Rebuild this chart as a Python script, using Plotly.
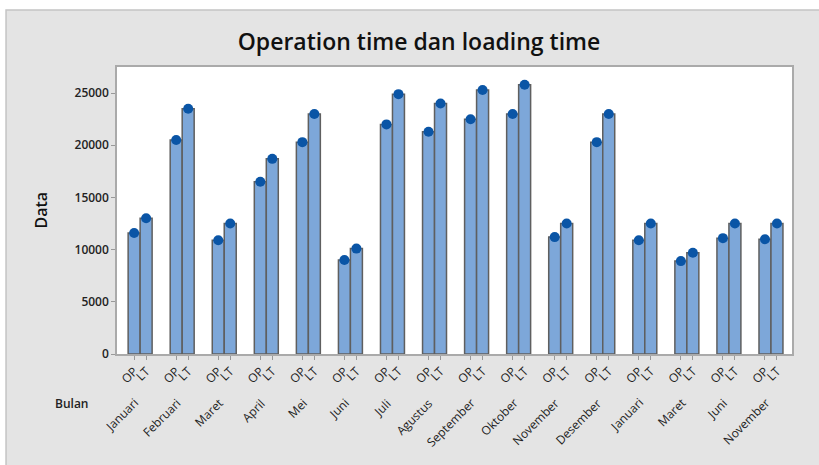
import plotly.graph_objects as go

months = ["Januari", "Februari", "Maret", "April", "Mei", "Juni", "Juli", "Agustus",
          "September", "Oktober", "November", "Desember", "Januari", "Maret", "Juni", "November"]
op_values = [11600, 20500, 10900, 16500, 20300, 9000, 22000, 21300,
             22500, 23000, 11200, 20300, 10900, 8900, 11100, 11000]
lt_values = [13000, 23500, 12500, 18700, 23000, 10100, 24900, 24000,
             25300, 25800, 12500, 23000, 12500, 9700, 12500, 12500]
sub_labels = ["OP", "LT"]
y_ticks = [0, 5000, 10000, 15000, 20000, 25000]

BAR_W = 0.285
BAR_FILL = "#7da7d9"
BAR_LINE = "#5f5f5f"
MARK = "#0a55a6"
FONT = "Open Sans"

idx = list(range(len(months)))
x_op = [i - BAR_W / 2 for i in idx]
x_lt = [i + BAR_W / 2 for i in idx]

fig = go.Figure()
fig.add_trace(go.Bar(x=idx, y=op_values, width=BAR_W, offset=-BAR_W, name="OP",
                     marker=dict(color=BAR_FILL, line=dict(color=BAR_LINE, width=1.5))))
fig.add_trace(go.Bar(x=idx, y=lt_values, width=BAR_W, offset=0, name="LT",
                     marker=dict(color=BAR_FILL, line=dict(color=BAR_LINE, width=1.5))))
fig.add_trace(go.Scatter(x=x_op, y=op_values, mode="markers",
                         marker=dict(color=MARK, size=10, symbol="circle"), cliponaxis=False))
fig.add_trace(go.Scatter(x=x_lt, y=lt_values, mode="markers",
                         marker=dict(color=MARK, size=10, symbol="circle"), cliponaxis=False))

tickvals = []
ticktext = []
for i in idx:
    tickvals += [x_op[i], x_lt[i]]
    ticktext += sub_labels

annotations = []
for i, m in enumerate(months):
    annotations.append(dict(x=i, y=0, xref="x", yref="paper", text=m, showarrow=False,
                            textangle=-45, xanchor="right", yanchor="top", yshift=-38, xshift=5,
                            font=dict(family=FONT, size=12, color="#222")))
annotations.append(dict(x=-0.0667, y=0, xref="paper", yref="paper", text="Bulan", showarrow=False,
                        xanchor="center", yanchor="middle", yshift=-49,
                        font=dict(family=FONT, size=12, color="#222", weight=600)))
annotations.append(dict(x=-0.114, y=0.5, xref="paper", yref="paper", text="Data", showarrow=False,
                        textangle=-90, xanchor="center", yanchor="middle",
                        font=dict(family=FONT, size=16, color="#111", weight=600)))

shapes = [
    dict(type="rect", xref="paper", yref="paper", x0=-0.1644, x1=1.2, y0=-0.6, y1=1.1986,
         fillcolor="#e4e4e4", line=dict(color="#c4c4c4", width=1.5), layer="below"),
    dict(type="rect", xref="paper", yref="paper", x0=0, x1=1, y0=0, y1=1,
         fillcolor="white", line=dict(width=0), layer="below"),
]

fig.update_layout(
    width=819, height=465,
    margin=dict(l=117, r=27, t=67, b=111),
    paper_bgcolor="white",
    plot_bgcolor="rgba(0,0,0,0)",
    showlegend=False,
    barmode="overlay",
    title=dict(text="Operation time dan loading time", x=0.5116, xref="container",
               y=0.9097, yref="container", xanchor="center", yanchor="middle",
               font=dict(family=FONT, size=23, color="#111", weight=600)),
    xaxis=dict(range=[-0.55, 15.5], tickvals=tickvals, ticktext=ticktext, tickangle=-45,
               ticks="outside", ticklen=4, tickcolor="#999", showgrid=False, zeroline=False,
               showline=True, linecolor="#aaa", linewidth=1.5, mirror=True, automargin=False,
               tickfont=dict(family=FONT, size=12, color="#222")),
    yaxis=dict(range=[0, 27500], tickvals=y_ticks, ticktext=[str(v) for v in y_ticks],
               ticks="outside", ticklen=4, tickcolor="#999", automargin=False,
               showgrid=False, zeroline=False, showline=True, linecolor="#aaa", linewidth=1.5,
               mirror=True, tickfont=dict(family=FONT, size=12, color="#222", weight=600)),
    annotations=annotations,
    shapes=shapes,
)

fig.write_html("out.html", config={"displayModeBar": False},
               post_script="document.body.style.margin='0';document.body.style.overflow='hidden';")
